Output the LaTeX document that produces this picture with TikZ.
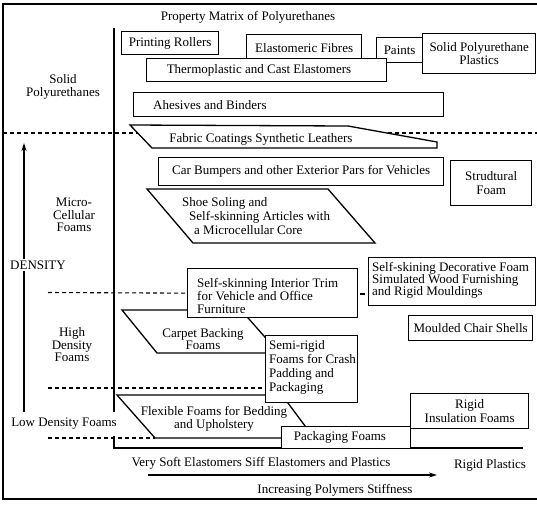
\documentclass[tikz,border=0pt]{standalone}
\usepackage{fontspec}
\setmainfont{Liberation Serif}
\usetikzlibrary{arrows.meta}
\begin{document}
\begin{tikzpicture}[x=1pt,y=-1pt,
  box/.style={draw,line width=1.3pt,fill=white,inner sep=0pt,anchor=north west,
              align=center,font=\fontsize{13}{13.5}\selectfont},
  shp/.style={draw,line width=1.3pt,fill=white,line join=miter},
  lbl/.style={inner sep=0pt,font=\fontsize{13}{13.5}\selectfont},
  tight/.style={inner sep=0pt,font=\fontsize{13}{12.5}\selectfont},
  dsh/.style={line width=1.1pt,dash pattern=on 4pt off 3pt},
  ax/.style={line width=1.4pt},
  tip/.style={-{Stealth[length=8pt,width=5pt]}}]
\useasboundingbox (0,0) rectangle (537,507);

% frame
\draw[line width=1.6pt] (537,4) -- (3,4) -- (3,499) -- (537,499);

% title
\node[lbl] (title) at (248,17) {Property Matrix of Polyurethanes};

% axes
\draw[ax] (114,28) -- (114,412);
\draw[ax] (114,436) -- (114,448) -- (523,448);

% density arrow
\coordinate (dbot) at (24,412);
\coordinate (dtop) at (24,143);
\draw[ax,tip] (dbot) -- (dtop);
\node[lbl,fill=white,inner sep=1.5pt] (dens) at (38,265) {DENSITY};

% left labels
\node[tight,align=center] (solid) at (63,87) {Solid\\Polyurethanes};
\node[tight,align=center] (micro) at (74,215) {Micro-\\Cellular\\Foams};
\node[tight,align=center] (high) at (72,345) {High\\Density\\Foams};
\node[lbl] (low) at (64,424) {Low Density Foams};

% dashed density separator (drawn beneath the shapes)
\coordinate (d1a) at (3,133);
\coordinate (d1b) at (537,133);
\draw[dsh] (d1a) -- (d1b);

% top boxes
\node[box,minimum width=97pt,minimum height=23pt] (pr) at (121,31) {Printing Rollers};
\node[box,minimum width=115pt,minimum height=26pt] (ef) at (246,34) {Elastomeric Fibres};
\node[box,minimum width=46pt,minimum height=25pt] (pt) at (376,37) {Paints};
\node[box,minimum width=113pt,minimum height=40pt] (spp) at (422,33) {Solid Polyurethane\\Plastics};
\node[box,minimum width=240pt,minimum height=23pt] (tc) at (146,58) {};
\node[lbl] (tct) at (259,70) {Thermoplastic and Cast Elastomers};
\node[box,minimum width=310pt,minimum height=24pt] (ab) at (133,92) {};
\node[lbl,anchor=west] (abt) at (153,105) {Ahesives and Binders};

% fabric coatings
\draw[shp] (130,125) -- (348,126) -- (437,142) -- (437,148) -- (152,148) -- cycle;
\node[lbl] (fab) at (261,139) {Fabric Coatings Synthetic Leathers};

% car bumpers, structural foam
\node[box,minimum width=285pt,minimum height=28pt] (cb) at (158,157) {Car Bumpers and other Exterior Pars for Vehicles};
\node[box,minimum width=81pt,minimum height=45pt] (sf) at (450,160) {Strudtural\\Foam};

% shoe soling
\draw[shp] (147,189) -- (328,189) -- (375,243) -- (193,243) -- cycle;
\node[lbl,anchor=west] (sh1) at (182,203) {Shoe Soling and};
\node[lbl,anchor=west] (sh2) at (189,217) {Self-skinning Articles with};
\node[lbl,anchor=west] (sh3) at (194,230) {a Microcellular Core};

% carpet backing
\draw[shp] (122,310) -- (241,310) -- (279,353) -- (157,353) -- cycle;
\node[tight,align=center] (cbf) at (203,339) {Carpet Backing\\Foams};

% flexible foams
\draw[shp] (117,395) -- (282,395) -- (314,438) -- (155,438) -- cycle;
\node[lbl,align=center] (flex) at (214,419) {Flexible Foams for Bedding\\and Upholstery};

% self-skinning interior trim
\node[box,minimum width=170pt,minimum height=49pt] (trim) at (187,268) {};
\node[lbl,anchor=west,align=left,font=\fontsize{13}{13}\selectfont] (trimt) at (197,296)
  {Self-skinning Interior Trim\\for Vehicle and Office\\Furniture};

% decorative foam
\node[box,minimum width=167pt,minimum height=48pt] (deco) at (368,257) {};
\node[lbl,anchor=west,align=left,font=\fontsize{13}{12}\selectfont] (decot) at (372,280)
  {Self-skining Decorative Foam\\Simulated Wood Furnishing\\and Rigid Mouldings};

% dashed separators 2-4
\coordinate (d2a) at (48,292.5);
\draw[dsh] (d2a) -- (trim.west);
\draw[line width=1.1pt] ([xshift=2pt]trim.east |- 0,294) -- ([xshift=-3pt]deco.west |- 0,294);

\node[box,minimum width=124pt,minimum height=25pt] (mcs) at (408,315) {Moulded Chair Shells};

% semi-rigid
\node[box,minimum width=92pt,minimum height=67pt] (semi) at (265,335) {};
\node[lbl,anchor=west,align=left,font=\fontsize{13}{14}\selectfont] (semit) at (269,367)
  {Semi-rigid\\Foams for Crash\\Padding and\\Packaging};
\coordinate (d3a) at (48,388);
\draw[dsh] (d3a) -- (semi.west |- d3a);
\coordinate (d4a) at (48,438);
\coordinate (d4b) at (155,438);
\draw[dsh] (d4a) -- (d4b);

% packaging & rigid insulation
\node[box,minimum width=129pt,minimum height=22pt] (pf) at (281,426) {};
\node[lbl] (pft) at (340,437) {Packaging Foams};
\node[box,minimum width=118pt,minimum height=35pt] (rif) at (410,393) {Rigid\\Insulation Foams};

% bottom labels
\node[lbl] (soft) at (261,463) {Very Soft Elastomers Siff Elastomers and Plastics};
\node[lbl] (rigp) at (490,465) {Rigid Plastics};
\coordinate (sa) at (148,475);
\coordinate (sb) at (437,475);
\draw[line width=1.3pt,tip] (sa) -- (sb);
\node[lbl] (incr) at (335,490) {Increasing Polymers Stiffness};
\end{tikzpicture}
\end{document}
